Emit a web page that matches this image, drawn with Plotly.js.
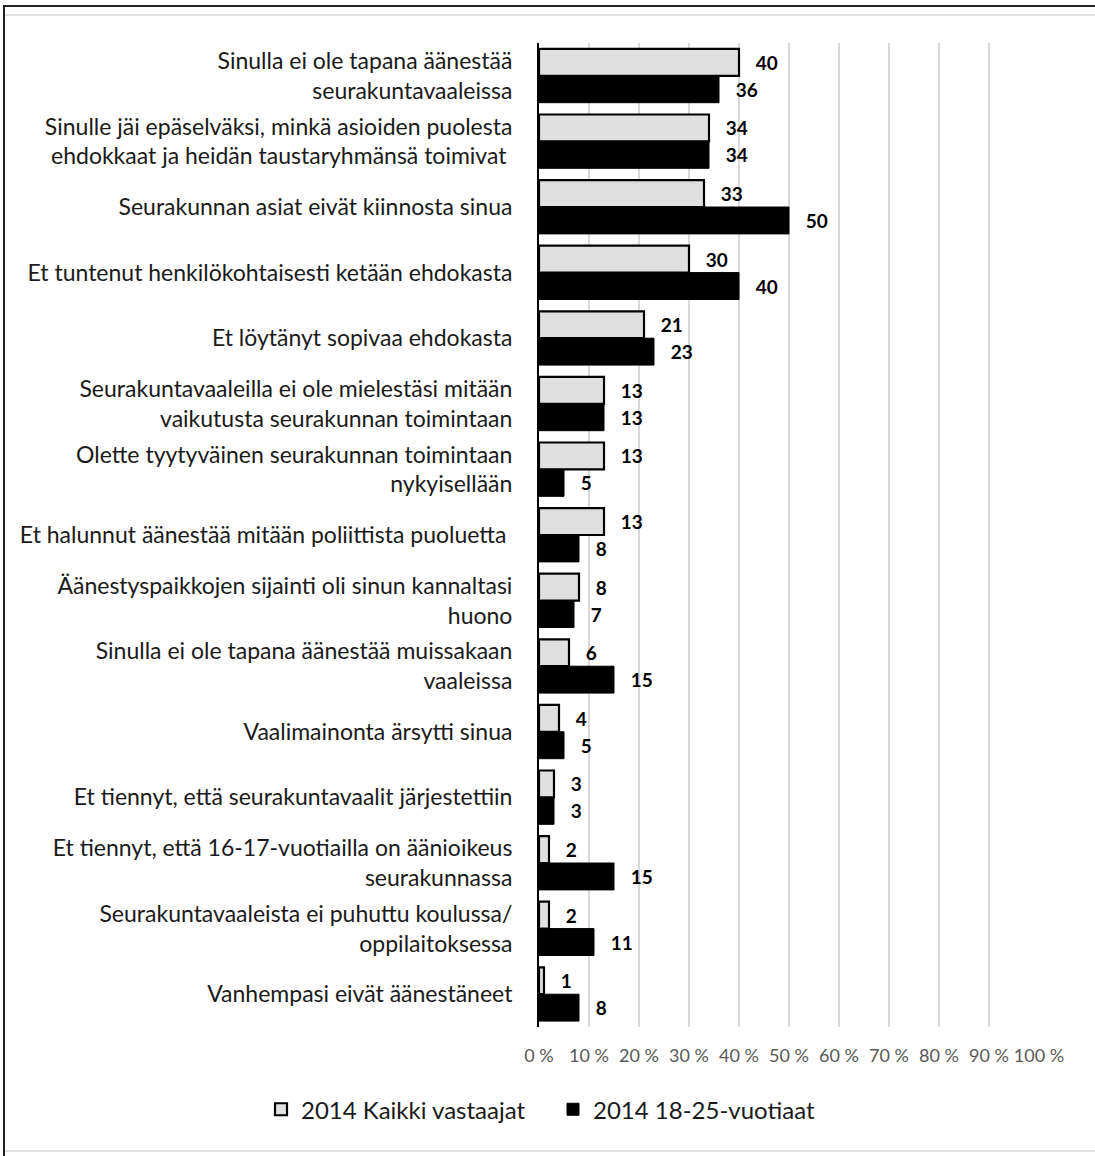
<!DOCTYPE html>
<html>
<head>
<meta charset="utf-8">
<script src="https://cdn.plot.ly/plotly-3.0.1.min.js"></script>
<style>
  html, body { margin: 0; padding: 0; background: #fff; }
  #wrap { position: relative; width: 1095px; height: 1156px; overflow: hidden; }
  #chart { position: absolute; left: 0; top: 0; width: 1095px; height: 1156px; }
  .ln { position: absolute; pointer-events: none; }
</style>
</head>
<body>
<div id="wrap">
  <div id="chart"></div>
  <div class="ln" style="left:4px; top:5px; width:1091px; height:2px; background:#222;"></div>
  <div class="ln" style="left:3px; top:5px; width:2px; height:1151px; background:#222;"></div>
  <div class="ln" style="left:5px; top:14px; width:1090px; height:2px; background:#e4e4e4;"></div>
  <div class="ln" style="left:5px; top:1150px; width:1090px; height:2px; background:#e4e4e4;"></div>
</div>
<script>
const categories = [
  "Sinulla ei ole tapana äänestää<br>seurakuntavaaleissa",
  "Sinulle jäi epäselväksi, minkä asioiden puolesta<br>ehdokkaat ja heidän taustaryhmänsä toimivat ",
  "Seurakunnan asiat eivät kiinnosta sinua",
  "Et tuntenut henkilökohtaisesti ketään ehdokasta",
  "Et löytänyt sopivaa ehdokasta",
  "Seurakuntavaaleilla ei ole mielestäsi mitään<br>vaikutusta seurakunnan toimintaan",
  "Olette tyytyväinen seurakunnan toimintaan<br>nykyisellään",
  "Et halunnut äänestää mitään poliittista puoluetta ",
  "Äänestyspaikkojen sijainti oli sinun kannaltasi<br>huono",
  "Sinulla ei ole tapana äänestää muissakaan<br>vaaleissa",
  "Vaalimainonta ärsytti sinua",
  "Et tiennyt, että seurakuntavaalit järjestettiin",
  "Et tiennyt, että 16-17-vuotiailla on äänioikeus<br>seurakunnassa",
  "Seurakuntavaaleista ei puhuttu koulussa/<br>oppilaitoksessa",
  "Vanhempasi eivät äänestäneet"
];
const kaikkiVastaajat = [40, 34, 33, 30, 21, 13, 13, 13, 8, 6, 4, 3, 2, 2, 1];
const nuoret18_25 = [36, 34, 50, 40, 23, 13, 5, 8, 7, 15, 5, 3, 15, 11, 8];
const seriesNames = ["2014 Kaikki vastaajat", "2014 18-25-vuotiaat"];
const tickValues = [0, 10, 20, 30, 40, 50, 60, 70, 80, 90, 100];
const tickLabels = ["0 %", "10 %", "20 %", "30 %", "40 %", "50 %", "60 %", "70 %", "80 %", "90 %", "100 %"];

const FONT = "Lato, 'Open Sans', sans-serif";
const pad = "\u00a0\u00a0\u00a0";

const traces = [
  {
    type: "bar", orientation: "h", name: seriesNames[0],
    y: categories, x: kaikkiVastaajat,
    marker: { color: "#e0e0e0", line: { color: "#000", width: 2.2 } },
    text: kaikkiVastaajat.map(v => pad + v), textposition: "outside",
    textfont: { family: FONT, size: 19, color: "#000", weight: "bold" },
    constraintext: "none", cliponaxis: false, hoverinfo: "x+y"
  },
  {
    type: "bar", orientation: "h", name: seriesNames[1],
    y: categories, x: nuoret18_25,
    marker: { color: "#000000", line: { color: "#000", width: 1 } },
    text: nuoret18_25.map(v => pad + v), textposition: "outside",
    textfont: { family: FONT, size: 19, color: "#000", weight: "bold" },
    constraintext: "none", cliponaxis: false, hoverinfo: "x+y"
  }
];

const layout = {
  width: 1095, height: 1156,
  margin: { l: 539, r: 56, t: 43, b: 129, autoexpand: false },
  paper_bgcolor: "rgba(0,0,0,0)", plot_bgcolor: "#fff",
  barmode: "group", bargap: 0.18, bargroupgap: 0,
  font: { family: FONT, size: 23, color: "#1a1a1a" },
  showlegend: true,
  legend: {
    orientation: "h", x: -0.556, xanchor: "left",
    y: -0.084, yanchor: "middle",
    font: { family: FONT, size: 24, color: "#1a1a1a" },
    entrywidth: 247, entrywidthmode: "pixels",
    traceorder: "normal", itemclick: false
  },
  xaxis: {
    range: [0, 100], tickvals: tickValues, ticktext: tickLabels,
    showgrid: true, gridcolor: "#d9d9d9", gridwidth: 1.5,
    zeroline: false, showline: false,
    ticks: "outside", ticklen: 12, tickcolor: "rgba(0,0,0,0)",
    tickfont: { family: FONT, size: 18, color: "#595959" },
    fixedrange: true
  },
  yaxis: {
    type: "category", autorange: "reversed",
    showline: true, linecolor: "#000", linewidth: 2,
    showgrid: false, zeroline: false,
    ticks: "outside", ticklen: 20, tickcolor: "rgba(0,0,0,0)",
    tickfont: { family: FONT, size: 23, color: "#1a1a1a" },
    fixedrange: true
  }
};

Plotly.newPlot("chart", traces, layout, { displayModeBar: false, staticPlot: true });
</script>
</body>
</html>
